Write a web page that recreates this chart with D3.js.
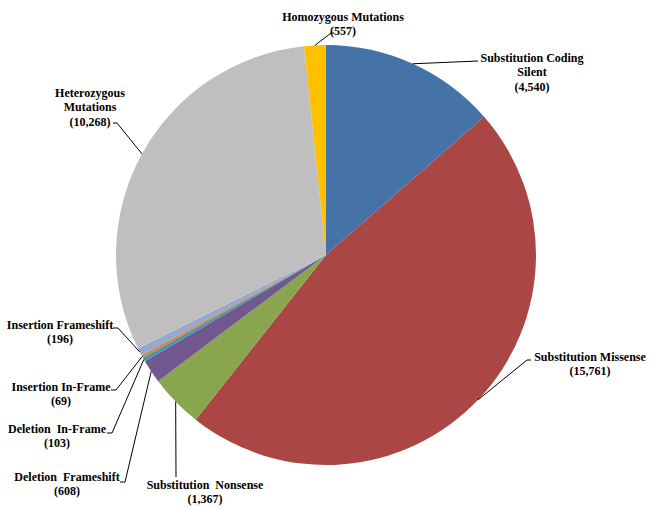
<!DOCTYPE html>
<html>
<head>
<meta charset="utf-8">
<script src="https://cdn.jsdelivr.net/npm/d3@7"></script>
<style>
  html, body { margin: 0; padding: 0; background: #fff; }
  svg text { font-family: "Liberation Serif", "Times New Roman", serif; font-weight: bold; font-size: 12px; white-space: pre; fill: #000; }
</style>
</head>
<body>
<div id="chart"></div>
<script>
// ---- data ----
const categories = [
  "Substitution Coding Silent",
  "Substitution Missense",
  "Substitution  Nonsense",
  "Deletion  Frameshift",
  "Deletion  In-Frame",
  "Insertion In-Frame",
  "Insertion Frameshift",
  "Heterozygous Mutations",
  "Homozygous Mutations"
];
const values = [4540, 15761, 1367, 608, 103, 69, 196, 10268, 557];
const colors = ["#4572A7", "#AA4643", "#89A54E", "#71588F", "#4198AF", "#DB843D", "#93A9CF", "#BFBFBF", "#FFC000"];
// where each category name wraps onto lines
const nameLines = [
  ["Substitution Coding", "Silent"],
  ["Substitution Missense"],
  ["Substitution  Nonsense"],
  ["Deletion  Frameshift"],
  ["Deletion  In-Frame"],
  ["Insertion In-Frame"],
  ["Insertion Frameshift"],
  ["Heterozygous", "Mutations"],
  ["Homozygous Mutations"]
];

// ---- layout (label placement) ----
const W = 651, H = 510;
const cx = 326, cy = 255, R = 210;
const lineH = 14.3;
const labelLayout = [
  { x: 532, y: 58,  hook: [478, 478, 61] },
  { x: 590, y: 357, hook: [527, 531, 360] },
  { x: 205, y: 485, hook: [176, 176, 477] },
  { x: 67,  y: 477, hook: [125, 120, 482] },
  { x: 57,  y: 429, hook: [112, 107, 433] },
  { x: 61,  y: 387, hook: [116, 111, 390] },
  { x: 60,  y: 325, hook: [118, 113, 328] },
  { x: 90,  y: 93,  hook: [117, 113, 123] },
  { x: 343, y: 17,  hook: [331, 334, 33] }
];

const fmt = d3.format(",");
const data = categories.map((c, i) => ({ name: c, value: values[i], color: colors[i], lines: nameLines[i].concat(["(" + fmt(values[i]) + ")"]), lay: labelLayout[i] }));

const svg = d3.select("#chart").append("svg").attr("width", W).attr("height", H);

const pie = d3.pie().sort(null).value(d => d.value).startAngle(0).endAngle(2 * Math.PI);
const arc = d3.arc().innerRadius(0).outerRadius(R);
const arcs = pie(data);

const g = svg.append("g").attr("transform", `translate(${cx},${cy})`);
g.selectAll("path.slice").data(arcs).enter().append("path")
  .attr("class", "slice")
  .attr("d", arc)
  .attr("fill", d => d.data.color);

// leader lines
svg.selectAll("path.leader").data(arcs).enter().append("path")
  .attr("class", "leader")
  .attr("fill", "none")
  .attr("stroke", "#000")
  .attr("stroke-width", 1)
  .attr("d", d => {
    const a = (d.startAngle + d.endAngle) / 2;
    const ex = cx + R * Math.sin(a), ey = cy - R * Math.cos(a);
    const h = d.data.lay.hook;
    return `M${ex},${ey}L${h[0]},${h[2]}L${h[1]},${h[2]}`;
  });

// labels
const labels = svg.selectAll("text.lbl").data(arcs).enter().append("text")
  .attr("class", "lbl")
  .attr("text-anchor", "middle");
labels.each(function(d) {
  const t = d3.select(this);
  d.data.lines.forEach((ln, k) => {
    t.append("tspan")
      .attr("x", d.data.lay.x)
      .attr("y", d.data.lay.y + k * lineH + 4)
      .text(ln);
  });
});
</script>
</body>
</html>
